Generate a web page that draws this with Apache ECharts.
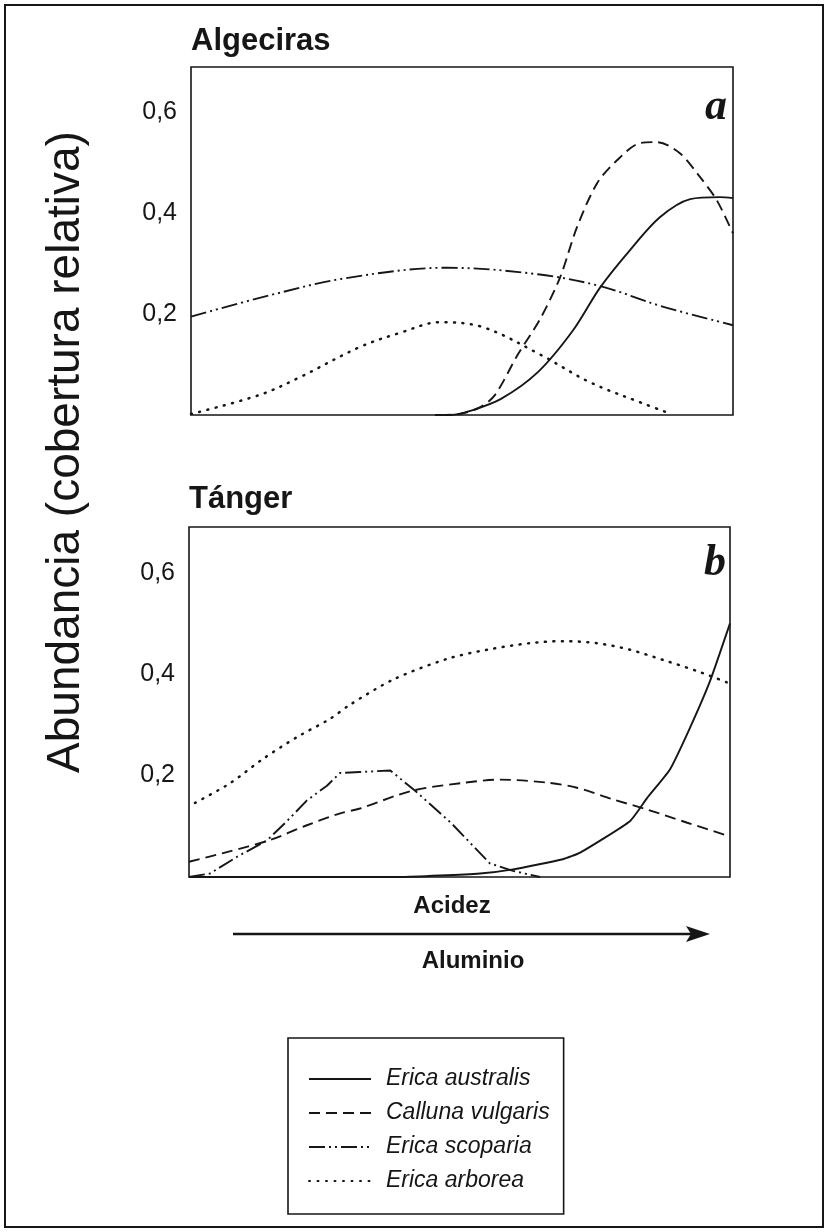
<!DOCTYPE html>
<html>
<head>
<meta charset="utf-8">
<script src="https://cdn.jsdelivr.net/npm/echarts@6/dist/echarts.min.js"></script>
<style>
  html, body { margin: 0; padding: 0; background: #fff; }
  #chart { width: 829px; height: 1232px; }
</style>
</head>
<body>
<div id="chart"></div>
<script>
// ---- Data (x: position along acidity gradient 0-100, y: relative cover) ----
const speciesNames = ['Erica australis', 'Calluna vulgaris', 'Erica scoparia', 'Erica arborea'];
const panelTitles = ['Algeciras', 'Tánger'];
const panelLetters = ['a', 'b'];
const yTickValues = [0.2, 0.4, 0.6];
const yTickLabels = ['0,2', '0,4', '0,6'];
const yAxisTitle = 'Abundancia (cobertura relativa)';
const xAxisTitle1 = 'Acidez';
const xAxisTitle2 = 'Aluminio';

const algecirasAustralis = [[45,0],[48,0],[51.5,0.008],[57.2,0.032],[64,0.085],[70.5,0.168],[75.5,0.253],[81,0.327],[86.5,0.392],[92.1,0.428],[97.6,0.432],[100,0.43]];
const algecirasCalluna = [[46,0],[49.6,0.002],[53.3,0.015],[56.1,0.04],[60.3,0.12],[64.4,0.19],[68.1,0.273],[71.2,0.372],[74.9,0.459],[78.6,0.505],[82.8,0.539],[86,0.541],[90.2,0.519],[93.9,0.472],[97,0.426],[100,0.36]];
const algecirasScoparia = [[0,0.195],[14.4,0.237],[28.4,0.271],[47.2,0.292],[64,0.279],[75.7,0.255],[86.7,0.216],[100,0.178]];
const algecirasArborea = [[0,0.002],[12.7,0.04],[20.1,0.075],[31.2,0.135],[38.6,0.163],[46,0.184],[53.9,0.174],[64.4,0.12],[73.6,0.065],[83.4,0.023],[88.6,0.002]];

const tangerAustralis = [[0,0],[39,0],[53.8,0.007],[59.9,0.015],[69.1,0.035],[72.3,0.048],[81.5,0.11],[84.7,0.156],[88.9,0.212],[92.6,0.294],[96.3,0.386],[100,0.5]];
const tangerCalluna = [[0,0.03],[7,0.049],[15,0.073],[21.8,0.102],[28.1,0.126],[31.6,0.135],[41.2,0.17],[51,0.186],[57.5,0.192],[66.2,0.186],[71.7,0.176],[78.4,0.153],[84.7,0.133],[92.1,0.107],[100,0.08]];
const tangerScoparia = [[0,0],[3.9,0.007],[8.9,0.04],[14.4,0.072],[18.1,0.11],[21.8,0.151],[25.5,0.18],[27.9,0.205],[31.6,0.207],[37.2,0.21],[41.8,0.17],[48.4,0.107],[55.6,0.027],[59.9,0.012],[64.9,0]];
const tangerArborea = [[1.1,0.146],[7.6,0.185],[13.7,0.233],[20,0.276],[26.1,0.312],[29.8,0.34],[37.9,0.39],[47.7,0.43],[55.1,0.448],[63,0.461],[69.1,0.465],[75.4,0.461],[81.5,0.448],[87.6,0.428],[93.9,0.406],[99.6,0.383]];

// ---- Styles ----
const INK = '#161616';
const SANS = '"Liberation Sans", Arial, sans-serif';
const SERIF = '"Liberation Serif", "Times New Roman", serif';
const styles = {
  'Erica australis': { type: 'solid', width: 1.9 },
  'Calluna vulgaris': { type: [11, 6], width: 1.9 },
  'Erica scoparia': { type: [16, 4, 2, 4, 2, 4], width: 1.9 },
  'Erica arborea': { type: [1, 7.5], width: 2.5, cap: 'round' }
};

const chart = echarts.init(document.getElementById('chart'), null, { renderer: 'canvas' });

function yAxisFor(gridIndex) {
  return {
    type: 'value', gridIndex: gridIndex, min: 0, max: 0.69, interval: 0.2,
    axisLine: { show: false }, axisTick: { show: false }, splitLine: { show: false },
    axisLabel: {
      show: true, margin: 14, color: INK, fontFamily: SANS, fontSize: 25,
      showMinLabel: false, showMaxLabel: false,
      formatter: function (v) {
        for (let i = 0; i < yTickValues.length; i++) {
          if (Math.abs(v - yTickValues[i]) < 1e-6) return yTickLabels[i];
        }
        return '';
      }
    }
  };
}
function xAxisFor(gridIndex) {
  return {
    type: 'value', gridIndex: gridIndex, min: 0, max: 100,
    axisLine: { show: false }, axisTick: { show: false }, splitLine: { show: false },
    axisLabel: { show: false }
  };
}
function lineSeries(name, data, idx, smooth) {
  const s = styles[name];
  return {
    name: name, type: 'line', xAxisIndex: idx, yAxisIndex: idx, data: data,
    symbol: 'none', showSymbol: false, smooth: smooth, silent: true, clip: true,
    lineStyle: { color: INK, width: s.width, type: s.type, cap: s.cap || 'butt' },
    itemStyle: { color: INK }
  };
}

const option = {
  animation: false,
  backgroundColor: '#fff',
  grid: [
    { left: 191, top: 67, width: 542, height: 348, show: true, borderColor: INK, borderWidth: 1.6, backgroundColor: 'transparent' },
    { left: 189, top: 527, width: 541, height: 350, show: true, borderColor: INK, borderWidth: 1.6, backgroundColor: 'transparent' }
  ],
  xAxis: [xAxisFor(0), xAxisFor(1)],
  yAxis: [yAxisFor(0), yAxisFor(1)],
  legend: {
    data: speciesNames,
    orient: 'vertical',
    left: 288, top: 1038,
    itemWidth: 62, itemHeight: 14, itemGap: 8,
    padding: [28, 14, 20, 20],
    borderColor: INK, borderWidth: 1.6,
    selectedMode: false,
    itemStyle: { color: 'rgba(0,0,0,0)', borderWidth: 0, opacity: 0 },
    textStyle: { fontFamily: SANS, fontStyle: 'italic', fontSize: 23, lineHeight: 26, color: INK, padding: [0, 0, 0, 10] }
  },
  series: [
    lineSeries('Erica australis', algecirasAustralis, 0, 0.3),
    lineSeries('Calluna vulgaris', algecirasCalluna, 0, 0.3),
    lineSeries('Erica scoparia', algecirasScoparia, 0, 0.35),
    lineSeries('Erica arborea', algecirasArborea, 0, 0.35),
    lineSeries('Erica australis', tangerAustralis, 1, 0.15),
    lineSeries('Calluna vulgaris', tangerCalluna, 1, 0.3),
    lineSeries('Erica scoparia', tangerScoparia, 1, false),
    lineSeries('Erica arborea', tangerArborea, 1, 0.3)
  ],
  graphic: [
    { type: 'rect', shape: { x: 5, y: 5, width: 818, height: 1222 }, style: { fill: 'none', stroke: INK, lineWidth: 2 }, silent: true },
    { type: 'text', left: 191, top: 26, style: { text: panelTitles[0], font: 'bold 31px ' + SANS, fill: INK } },
    { type: 'text', left: 189, top: 484, style: { text: panelTitles[1], font: 'bold 31px ' + SANS, fill: INK } },
    { type: 'text', x: 716, y: 108, style: { text: panelLetters[0], font: 'italic bold 44px ' + SERIF, fill: INK, align: 'center', verticalAlign: 'middle' } },
    { type: 'text', x: 715, y: 564, style: { text: panelLetters[1], font: 'italic bold 44px ' + SERIF, fill: INK, align: 'center', verticalAlign: 'middle' } },
    { type: 'text', x: 66, y: 452, rotation: Math.PI / 2, style: { text: yAxisTitle, font: '46px ' + SANS, fill: INK, align: 'center', verticalAlign: 'middle' } },
    { type: 'text', x: 452, y: 906, style: { text: xAxisTitle1, font: 'bold 24px ' + SANS, fill: INK, align: 'center', verticalAlign: 'middle' } },
    { type: 'line', shape: { x1: 233, y1: 934, x2: 700, y2: 934 }, style: { stroke: INK, lineWidth: 2.6 } },
    { type: 'polygon', shape: { points: [[710, 934], [686, 926], [691, 934], [686, 942]] }, style: { fill: INK } },
    { type: 'text', x: 473, y: 961, style: { text: xAxisTitle2, font: 'bold 24px ' + SANS, fill: INK, align: 'center', verticalAlign: 'middle' } }
  ]
};
chart.setOption(option);
</script>
</body>
</html>
